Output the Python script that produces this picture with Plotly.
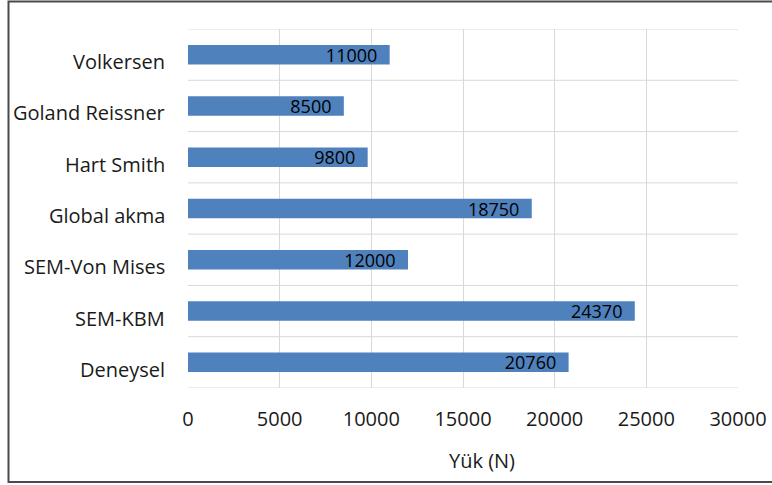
import plotly.graph_objects as go

# Load values per method (N), listed bottom to top
methods = ["Deneysel", "SEM-KBM", "SEM-Von Mises", "Global akma",
           "Hart Smith", "Goland Reissner", "Volkersen"]
loads = [20760, 24370, 12000, 18750, 9800, 8500, 11000]
x_ticks = [0, 5000, 10000, 15000, 20000, 25000, 30000]
x_title = "Yük (N)"

W, H = 772, 485
ML, MR, MT, MB = 188, 34, 29, 97
FONT = "'Open Sans', sans-serif"
GRID = "#d9d9d9"

fig = go.Figure(go.Bar(
    y=methods, x=loads, orientation="h",
    marker=dict(color="#4f81bd", line=dict(color="#4f81bd", width=0)),
    width=0.38,
    text=[str(v) for v in loads],
    texttemplate="%{text}\u00a0\u00a0",
    textposition="inside", insidetextanchor="end",
    constraintext="none",
    textfont=dict(family=FONT, size=18, color="#000000"),
    cliponaxis=False,
))

# Horizontal gridlines sit between categories
shapes = []
for i in range(len(methods) + 1):
    shapes.append(dict(type="line", xref="x domain", yref="y",
                       x0=0, x1=1, y0=i - 0.5, y1=i - 0.5,
                       line=dict(color=GRID, width=1), layer="below"))

# Outer chart border (runs past the right edge)
pw, ph = W - ML - MR, H - MT - MB
shapes.append(dict(type="rect", xref="paper", yref="paper",
                   x0=(8.5 - ML) / pw, x1=(800 - ML) / pw,
                   y0=(H - MB - 482) / ph, y1=(H - MB - 1.5) / ph,
                   line=dict(color="#4a4a4a", width=2)))

# Category labels, set slightly below each bar's centre line
annotations = [dict(text=m, x=-21 / pw, xref="paper", xanchor="right",
                    y=m, yref="y", yanchor="middle", yshift=-7,
                    showarrow=False,
                    font=dict(family=FONT, size=20, color="#1a1a1a"))
               for m in methods]

# Value-axis title, sitting a little right of the plot centre
annotations.append(dict(text=x_title, x=(482 - ML) / pw, xref="paper",
                        xanchor="center", y=-(460 - (H - MB)) / ph,
                        yref="paper", yanchor="middle", showarrow=False,
                        font=dict(family=FONT, size=20, color="#1a1a1a")))

fig.update_layout(
    width=W, height=H,
    margin=dict(l=ML, r=MR, t=MT, b=MB, autoexpand=False),
    paper_bgcolor="white", plot_bgcolor="white",
    font=dict(family=FONT, size=19, color="#1a1a1a"),
    showlegend=False,
    shapes=shapes,
    annotations=annotations,
    xaxis=dict(range=[0, 30000], tickvals=x_ticks,
               ticktext=[str(t) for t in x_ticks],
               automargin=False,
               showgrid=True, gridcolor=GRID, gridwidth=1,
               zeroline=False, showline=False, ticks="",
               ticklabelstandoff=17,
               tickfont=dict(family=FONT, size=20)),
    yaxis=dict(type="category", range=[-0.5, len(methods) - 0.5],
               automargin=False,
               showgrid=False, zeroline=False, showline=False, ticks="",
               showticklabels=False),
)

fig.write_html("out.html")
